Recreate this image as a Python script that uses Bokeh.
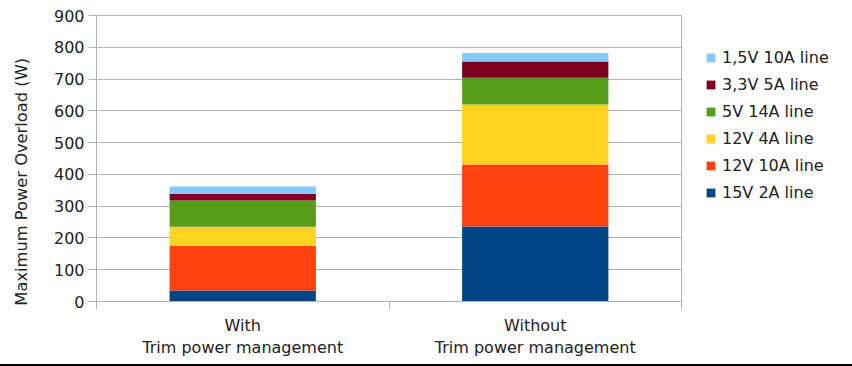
import math
from bokeh.plotting import figure
from bokeh.models import (Range1d, FixedTicker, LinearAxis, Legend, LegendItem,
                          ColumnDataSource)
from bokeh.embed import file_html
from bokeh.resources import INLINE

categories = ["With\nTrim power management", "Without\nTrim power management"]
series_names = ["15V 2A line", "12V 10A line", "12V 4A line",
                "5V 14A line", "3,3V 5A line", "1,5V 10A line"]
line_15v_2a = [35, 236]
line_12v_10a = [140, 195]
line_12v_4a = [60, 189]
line_5v_14a = [83, 84]
line_3v3_5a = [21, 51]
line_1v5_10a = [23, 27]
colors = ["#004586", "#ff420e", "#ffd320", "#579d1c", "#7e0021", "#83caff"]
y_ticks = [0, 100, 200, 300, 400, 500, 600, 700, 800, 900]
y_label = "Maximum Power Overload (W)"

FONT = "DejaVu Sans"
TXT = "#222222"
GRID = "#b3b3b3"

xs = [i + 0.5 for i in range(len(categories))]
keys = ["s0", "s1", "s2", "s3", "s4", "s5"]
data = dict(x=xs)
for k, vals in zip(keys, [line_15v_2a, line_12v_10a, line_12v_4a,
                          line_5v_14a, line_3v3_5a, line_1v5_10a]):
    data[k] = vals
source = ColumnDataSource(data)

p = figure(frame_width=585, frame_height=286,
           min_border_left=96, min_border_top=15,
           min_border_right=169, min_border_bottom=63,
           x_range=Range1d(0, len(categories)), y_range=Range1d(0, 900),
           output_backend="svg", toolbar_location=None, tools="")
p.styles = {"border-right": "2px solid black", "border-bottom": "2px solid black"}

renderers = p.vbar_stack(keys, x="x", width=0.5, source=source,
                         color=colors, line_color=None)

p.outline_line_color = GRID
p.background_fill_color = "white"
p.border_fill_color = "white"
p.xgrid.visible = False
p.ygrid.grid_line_color = GRID
p.ygrid.grid_line_width = 1

# y axis
yax = p.yaxis[0]
yax.ticker = FixedTicker(ticks=y_ticks)
yax.axis_line_color = GRID
yax.major_tick_line_color = GRID
yax.major_tick_out = 8
yax.major_tick_in = 0
yax.minor_tick_line_color = None
yax.major_label_text_font = FONT
yax.major_label_text_font_size = "16px"
yax.major_label_text_color = TXT
yax.major_label_standoff = 4
# trailing no-break spaces shift the centred title down, as in the reference
yax.axis_label = y_label + "\u00a0" * 9
yax.axis_label_text_font = FONT
yax.axis_label_text_font_size = "16.3px"
yax.axis_label_text_font_style = "normal"
yax.axis_label_text_color = TXT
yax.axis_label_standoff = 20

# x axis: ticks at category boundaries
xa = p.xaxis[0]
xa.ticker = FixedTicker(ticks=list(range(len(categories) + 1)))
xa.axis_line_color = GRID
xa.major_tick_line_color = GRID
xa.major_tick_out = 8
xa.major_tick_in = 0
xa.minor_tick_line_color = None
xa.major_label_overrides = {i: "" for i in range(len(categories) + 1)}
xa.major_label_text_font_size = "1px"
xa.major_label_standoff = 0

# x axis: category labels at centers
xb = LinearAxis(ticker=FixedTicker(ticks=xs),
                major_label_overrides={x: c for x, c in zip(xs, categories)})
xb.axis_line_color = None
xb.major_tick_line_color = None
xb.minor_tick_line_color = None
xb.major_label_text_font = FONT
xb.major_label_text_font_size = "16px"
xb.major_label_text_color = TXT
xb.major_label_standoff = 0
p.add_layout(xb, "below")

items = [LegendItem(label=n, renderers=[r]) for n, r in zip(series_names, renderers)]
legend = Legend(items=list(reversed(items)), location=(24, 99),
                glyph_width=11, glyph_height=11, label_standoff=6,
                label_height=20, spacing=7, padding=0, margin=0,
                border_line_color=None, background_fill_alpha=0,
                label_text_font=FONT, label_text_font_size="16px",
                label_text_color=TXT)
p.add_layout(legend, "right")

open("out.html", "w").write(file_html(p, INLINE))
